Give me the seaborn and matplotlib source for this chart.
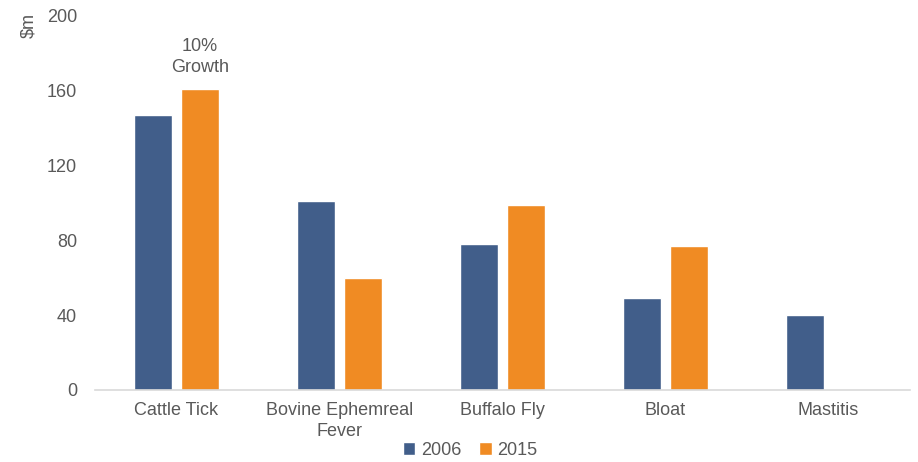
import matplotlib
matplotlib.use("Agg")
import matplotlib.pyplot as plt
import seaborn as sns
import pandas as pd
import numpy as np

# Annual cost of cattle diseases ($m)
categories = ["Cattle Tick", "Bovine Ephemreal\nFever", "Buffalo Fly", "Bloat", "Mastitis"]
years = ["2006", "2015"]
values_2006 = [147, 101, 78, 49, 40]
values_2015 = [161, 60, 99, 77, np.nan]
y_ticks = [0, 40, 80, 120, 160, 200]
annotation_text = "10%\nGrowth"

colors = {"2006": "#415E8A", "2015": "#F08B23"}
text_color = "#595959"

df = pd.DataFrame({
    "category": categories * 2,
    "year": [years[0]] * len(categories) + [years[1]] * len(categories),
    "cost": values_2006 + values_2015,
})

sns.set_theme(style="white")
plt.rcParams["font.family"] = ["Liberation Sans", "DejaVu Sans"]

fig, ax = plt.subplots(figsize=(9.18, 4.62), dpi=100)
fig.subplots_adjust(left=0.1035, right=0.991, top=0.9654, bottom=0.156)

sns.barplot(data=df, x="category", y="cost", hue="year", order=categories,
            hue_order=years, palette=colors, width=0.58, gap=0.19,
            saturation=1, ax=ax, legend=True)

ax.set_xlim(-0.5, len(categories) - 0.5)
ax.set_ylim(0, 200)
ax.set_yticks(y_ticks)
ax.set_xlabel("")
ax.set_ylabel("")

for side in ["top", "right", "left"]:
    ax.spines[side].set_visible(False)
ax.spines["bottom"].set_color("#D9D9D9")
ax.spines["bottom"].set_linewidth(1.2)

ax.tick_params(axis="y", length=0, pad=13, labelsize=13, labelcolor=text_color)
ax.tick_params(axis="x", length=0, pad=9, labelsize=13, labelcolor=text_color)
for lbl in ax.get_xticklabels():
    lbl.set_linespacing(1.3)

# Growth note above the 2015 Cattle Tick bar
bar = ax.containers[1][0]
cx = bar.get_x() + bar.get_width() / 2
ax.annotate(annotation_text, xy=(cx, values_2015[0]), xytext=(0, 9),
            textcoords="offset points", ha="center", va="bottom",
            fontsize=13, color=text_color, linespacing=1.35)

fig.text(29 / 918, 1 - 25 / 462, "\\$m", rotation=90, ha="center", va="center",
         fontsize=13, color=text_color)

handles, labels = ax.get_legend_handles_labels()
ax.get_legend().remove()
fig.legend(handles, labels, loc="lower center", bbox_to_anchor=(0.512, -0.028),
           ncol=2, frameon=False, fontsize=13, labelcolor=text_color,
           handlelength=0.7, handleheight=0.7, handletextpad=0.3,
           columnspacing=1.0)

fig.savefig("out.png", dpi=100)
